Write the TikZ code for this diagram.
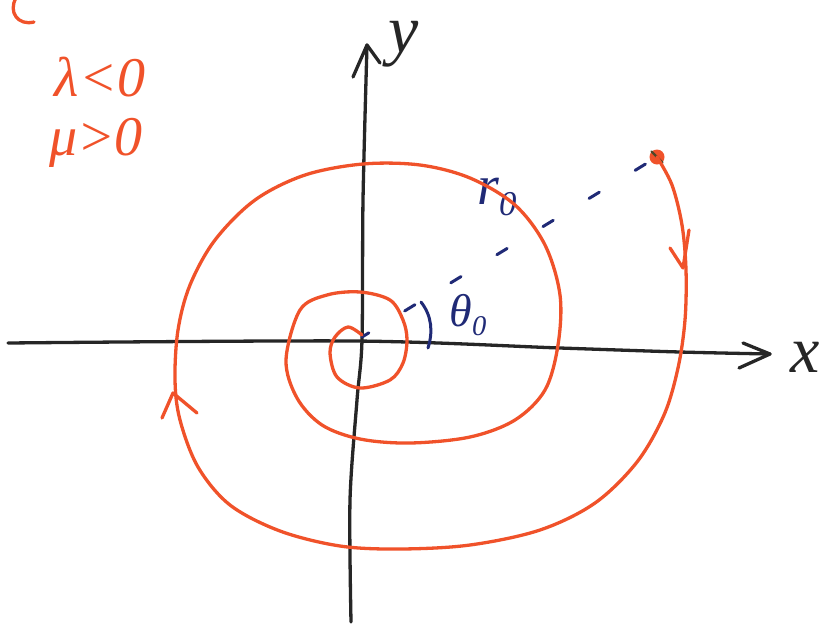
\documentclass[tikz,border=0pt]{standalone}
\usepackage{fontspec}
\setmainfont{Liberation Serif}
\usetikzlibrary{arrows.meta}

\definecolor{spiralred}{RGB}{240,82,42}
\definecolor{inkblue}{RGB}{32,42,118}
\definecolor{inkblack}{RGB}{38,38,38}
\definecolor{inkdot}{RGB}{80,70,40}

\newcommand{\sub}[1]{\raisebox{-0.18em}{\scalebox{0.62}{#1}}}

\begin{document}
\begin{tikzpicture}[
    x=1pt, y=-1pt,
    spiral/.style={draw=spiralred, line width=3.3pt, line cap=round, line join=round},
    axis/.style={draw=inkblack, line width=3.3pt, line cap=round, line join=round},
    guide/.style={draw=inkblue, line width=3pt, line cap=round},
    lbl/.style={inner sep=0pt, font=\itshape}
]
\useasboundingbox (0,0) rectangle (821,630);
\clip (0,0) rectangle (821,630);

% Coordinates
\coordinate (origin) at (362,337);
\coordinate (xstart) at (8,343);
\coordinate (xtip) at (770,354);
\coordinate (ystart) at (351,622);
\coordinate (ytip) at (367,45);
\coordinate (downtip) at (683,268);
\coordinate (uptip) at (173,393);

% Axes
\draw[axis] plot[smooth] coordinates {(xstart) (355,341) (560,348) (680,352) (xtip)};
\draw[axis] (xtip) ++(-27,-11) -- (xtip) -- ++(-31,14);
\draw[axis] plot[smooth] coordinates {(ystart) (350,500) (357,400) (362,340) (363,200) (ytip)};
\draw[axis] (ytip) ++(-14,32) -- (ytip) -- ++(13,18);

% Labels
\node[lbl, text=inkblack, font=\itshape\fontsize{68}{68}\selectfont] (ylabel) at (404,44) {y};
\node[lbl, text=inkblack, font=\itshape\fontsize{66}{66}\selectfont] (xlabel) at (805,357) {x};
\node[lbl, text=spiralred, font=\itshape\fontsize{56}{56}\selectfont] (lambda) at (100,77) {λ<0};
\node[lbl, text=spiralred, font=\itshape\fontsize{56}{56}\selectfont] (mu) at (96,143) {μ>0};
\node[lbl, text=inkblue, font=\itshape\fontsize{56}{56}\selectfont] (rlabel) at (497,197) {r\sub{0}};
\node[lbl, text=inkblue, font=\itshape\fontsize{46}{46}\selectfont] (thetalabel) at (468,315) {θ\sub{0}};

% Start point
\node[circle, fill=spiralred, minimum size=15pt, inner sep=0pt] (start) at (657,157) {};
\draw[inkdot, line width=2.4pt, line cap=round] (start.north west) -- (start.south east);

% Radius and angle
\draw[guide, dash pattern=on 12pt off 42pt, dash phase=4pt] (origin) -- (start.center);
\draw[guide] (421,302) .. controls (432,316) and (433,332) .. (428,348);

% Spiral
\draw[spiral] plot[smooth, tension=0.55] coordinates {
    (start.center) (672,185) (682,225) (686,270) (685,320) (678,368) (664,415)
    (637,462) (595,503) (540,530) (470,545) (400,549) (340,546) (280,531)
    (230,505) (198,467) (180,420) (175,380) (178,330) (190,285) (215,240)
    (255,200) (305,175) (363,164) (420,165) (470,178) (515,205) (545,245)
    (560,295) (558,345) (545,390) (515,420) (470,437) (410,443) (360,439)
    (322,425) (297,398) (286,360) (300,310) (327,295) (360,292) (390,300)
    (403,320) (407,340) (403,363) (390,380) (360,388) (337,377) (330,353)
    (335,337) (348,327) (362,335)};
\draw[spiral] (downtip) ++(-13,-20) -- (downtip) -- ++(6,-38);
\draw[spiral] (uptip) ++(-11,25) -- (uptip) -- ++(24,20);
\draw[spiral] (16,-2) .. controls (8,12) and (18,26) .. (34,22);

\end{tikzpicture}
\end{document}
